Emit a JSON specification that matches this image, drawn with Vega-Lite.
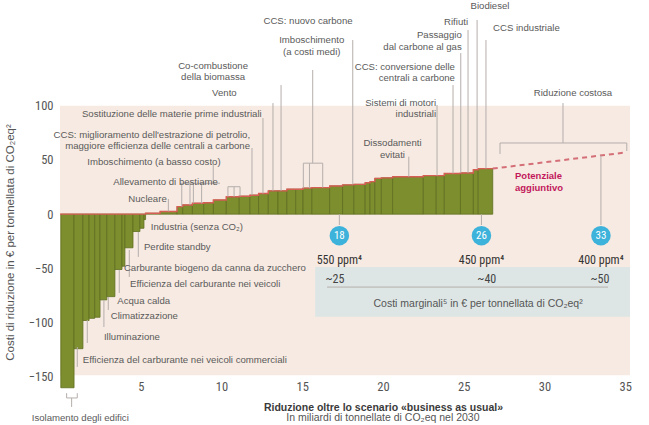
{
  "$schema": "https://vega.github.io/schema/vega-lite/v6.json",
  "width": 570,
  "height": 378,
  "autosize": {"type": "none"},
  "padding": {"left": 60, "top": 0, "right": 19, "bottom": 47},
  "background": "white",
  "config": {"view": {"stroke": null}, "font": "Liberation Sans"},
  "datasets": {
    "bg": [{"x": 0, "x2": 35.3, "y": -148.5, "y2": 100}],
    "band": [{"x": 15.8, "x2": 35.3, "y": -94.6, "y2": -48.6}],
    "bars": [
      {"x": 0.05, "x2": 0.87, "y": -160},
      {"x": 0.87, "x2": 1.42, "y": -124},
      {"x": 1.42, "x2": 1.8, "y": -98},
      {"x": 1.8, "x2": 2.15, "y": -96},
      {"x": 2.15, "x2": 2.48, "y": -95},
      {"x": 2.48, "x2": 2.9, "y": -79},
      {"x": 2.9, "x2": 3.4, "y": -76},
      {"x": 3.4, "x2": 3.84, "y": -51},
      {"x": 3.84, "x2": 4.02, "y": -48},
      {"x": 4.02, "x2": 4.52, "y": -31},
      {"x": 4.52, "x2": 4.95, "y": -16},
      {"x": 4.95, "x2": 5.2, "y": -13},
      {"x": 5.2, "x2": 5.3, "y": -5},
      {"x": 5.3, "x2": 6.2, "y": 0.8},
      {"x": 6.2, "x2": 7.25, "y": 2.5},
      {"x": 7.25, "x2": 7.6, "y": 7},
      {"x": 7.6, "x2": 8.2, "y": 8.5},
      {"x": 8.2, "x2": 8.9, "y": 10},
      {"x": 8.9, "x2": 9.5, "y": 10.5},
      {"x": 9.5, "x2": 10.3, "y": 13},
      {"x": 10.3, "x2": 11.1, "y": 16},
      {"x": 11.1, "x2": 11.76, "y": 16.5},
      {"x": 11.76, "x2": 12.3, "y": 17.5},
      {"x": 12.3, "x2": 12.9, "y": 19},
      {"x": 12.9, "x2": 13.5, "y": 21.5},
      {"x": 13.5, "x2": 14.05, "y": 21.5},
      {"x": 14.05, "x2": 14.6, "y": 23},
      {"x": 14.6, "x2": 15.05, "y": 23},
      {"x": 15.05, "x2": 15.6, "y": 24},
      {"x": 15.6, "x2": 16.7, "y": 24.5},
      {"x": 16.7, "x2": 17.5, "y": 26},
      {"x": 17.5, "x2": 18.2, "y": 27},
      {"x": 18.2, "x2": 18.9, "y": 27.5},
      {"x": 18.9, "x2": 19.2, "y": 29},
      {"x": 19.2, "x2": 19.5, "y": 30},
      {"x": 19.5, "x2": 19.9, "y": 33},
      {"x": 19.9, "x2": 20.6, "y": 33.5},
      {"x": 20.6, "x2": 22.5, "y": 34.5},
      {"x": 22.5, "x2": 23.3, "y": 35.5},
      {"x": 23.3, "x2": 23.8, "y": 35.5},
      {"x": 23.8, "x2": 24.8, "y": 37.5},
      {"x": 24.8, "x2": 25.6, "y": 38},
      {"x": 25.6, "x2": 25.9, "y": 41},
      {"x": 25.9, "x2": 26.8, "y": 42}
    ],
    "profile": [
      {"x": 0, "y": 0}, {"x": 5.3, "y": 0.8}, {"x": 6.2, "y": 2.5}, {"x": 7.25, "y": 7},
      {"x": 7.6, "y": 8.5}, {"x": 8.2, "y": 10}, {"x": 8.9, "y": 10.5}, {"x": 9.5, "y": 13},
      {"x": 10.3, "y": 16}, {"x": 11.1, "y": 16.5}, {"x": 11.76, "y": 17.5}, {"x": 12.3, "y": 19},
      {"x": 12.9, "y": 21.5}, {"x": 14.05, "y": 23}, {"x": 15.05, "y": 24}, {"x": 15.6, "y": 24.5},
      {"x": 16.7, "y": 26}, {"x": 17.5, "y": 27}, {"x": 18.2, "y": 27.5}, {"x": 18.9, "y": 29},
      {"x": 19.2, "y": 30}, {"x": 19.5, "y": 33}, {"x": 19.9, "y": 33.5}, {"x": 20.6, "y": 34.5},
      {"x": 22.5, "y": 35.5}, {"x": 23.8, "y": 37.5}, {"x": 24.8, "y": 38}, {"x": 25.6, "y": 41},
      {"x": 25.9, "y": 42}, {"x": 26.8, "y": 42}
    ],
    "dashed": [{"x": 26.8, "y": 42}, {"x": 35.1, "y": 57}],
    "leaders": [
      {"x": 25.83, "x2": 25.83, "y": 179, "y2": 42},
      {"x": 25.27, "x2": 25.27, "y": 169.7, "y2": 38},
      {"x": 24.82, "x2": 24.82, "y": 148.5, "y2": 38},
      {"x": 26.38, "x2": 26.38, "y": 160.5, "y2": 42},
      {"x": 24.34, "x2": 24.34, "y": 119, "y2": 37.5},
      {"x": 23.35, "x2": 23.35, "y": 100.6, "y2": 35.5},
      {"x": 21.6, "x2": 21.6, "y": 53, "y2": 34.5},
      {"x": 18.13, "x2": 18.13, "y": 160.5, "y2": 27.5},
      {"x": 15.65, "x2": 15.65, "y": 132.9, "y2": 47},
      {"x": 15.07, "x2": 16.27, "y": 47, "y2": 47},
      {"x": 15.07, "x2": 15.07, "y": 47, "y2": 24},
      {"x": 15.45, "x2": 15.45, "y": 47, "y2": 24},
      {"x": 16.27, "x2": 16.27, "y": 47, "y2": 24.5},
      {"x": 13.69, "x2": 13.69, "y": 119, "y2": 21.5},
      {"x": 13.19, "x2": 13.19, "y": 102.4, "y2": 21.5},
      {"x": 12.57, "x2": 12.57, "y": 88.6, "y2": 19},
      {"x": 11.89, "x2": 11.89, "y": 61, "y2": 17.5},
      {"x": 9.49, "x2": 9.49, "y": 45.3, "y2": 28.5},
      {"x": 7.43, "x2": 9.91, "y": 28.5, "y2": 28.5},
      {"x": 7.54, "x2": 7.54, "y": 28.5, "y2": 7},
      {"x": 8.05, "x2": 8.05, "y": 28.5, "y2": 8.5},
      {"x": 8.26, "x2": 8.26, "y": 28.5, "y2": 10},
      {"x": 8.77, "x2": 8.77, "y": 28.5, "y2": 10},
      {"x": 10.4, "x2": 11.15, "y": 25.3, "y2": 25.3},
      {"x": 10.4, "x2": 10.4, "y": 25.3, "y2": 16},
      {"x": 10.78, "x2": 10.78, "y": 25.3, "y2": 16},
      {"x": 11.15, "x2": 11.15, "y": 25.3, "y2": 16.5},
      {"x": 6.71, "x2": 6.71, "y": 14, "y2": 2.5},
      {"x": 31.15, "x2": 31.15, "y": 102.4, "y2": 65.6},
      {"x": 27.25, "x2": 35.1, "y": 65.6, "y2": 65.6},
      {"x": 27.25, "x2": 27.25, "y": 65.6, "y2": 55.5},
      {"x": 35.1, "x2": 35.1, "y": 65.6, "y2": 58.2},
      {"x": 4.85, "x2": 4.85, "y": -16.4, "y2": -39.4},
      {"x": 4.29, "x2": 4.29, "y": -33, "y2": -57.9},
      {"x": 3.67, "x2": 3.67, "y": -51.4, "y2": -72.6},
      {"x": 2.99, "x2": 2.99, "y": -76.3, "y2": -88.3},
      {"x": 2.72, "x2": 2.72, "y": -79, "y2": -104},
      {"x": 1.69, "x2": 1.69, "y": -97.5, "y2": -118.7},
      {"x": 1.07, "x2": 1.07, "y": -122.4, "y2": -140.8},
      {"x": 0.41, "x2": 1.07, "y": -169.4, "y2": -169.4},
      {"x": 0.41, "x2": 0.41, "y": -165, "y2": -169.4},
      {"x": 1.07, "x2": 1.07, "y": -165, "y2": -169.4},
      {"x": 0.72, "x2": 0.72, "y": -169.4, "y2": -177.7},
      {"x": 17.3, "x2": 17.3, "y": 0, "y2": -10},
      {"x": 26.1, "x2": 26.1, "y": 0, "y2": -10},
      {"x": 33.5, "x2": 33.5, "y": 54.1, "y2": -10},
      {"x": 16.54, "x2": 33.94, "y": -67.2, "y2": -67.2}
    ],
    "circles": [
      {"x": 17.3, "y": -19.8, "text": "18"},
      {"x": 26.1, "y": -19.8, "text": "26"},
      {"x": 33.5, "y": -19.8, "text": "33"}
    ],
    "ppm": [
      {"x": 17.3, "y": -42.3, "text": "550 ppm⁴"},
      {"x": 26.1, "y": -42.3, "text": "450 ppm⁴"},
      {"x": 33.5, "y": -42.3, "text": "400 ppm⁴"}
    ],
    "costs": [
      {"x": 17.03, "y": -60, "text": "~25"},
      {"x": 26.43, "y": -60, "text": "~40"},
      {"x": 33.44, "y": -60, "text": "~50"}
    ],
    "caption": [{"x": 25.89, "y": -82.5, "text": "Costi marginali⁵ in € per tonnellata di CO₂eq²"}],
    "leftSingle": [
      {"x": 1.36, "y": 92.3, "text": "Sostituzione delle materie prime industriali"},
      {"x": 1.69, "y": 48.1, "text": "Imboschimento (a basso costo)"},
      {"x": 3.3, "y": 29.7, "text": "Allevamento di bestiame"},
      {"x": 5.62, "y": -11.8, "text": "Industria (senza CO₂)"},
      {"x": 5.2, "y": -30.2, "text": "Perdite standby"},
      {"x": 3.96, "y": -49.6, "text": "Carburante biogeno da canna da zucchero"},
      {"x": 4.34, "y": -64.3, "text": "Efficienza del carburante nei veicoli"},
      {"x": 3.55, "y": -80, "text": "Acqua calda"},
      {"x": 3.14, "y": -93.8, "text": "Climatizzazione"},
      {"x": 2.72, "y": -113.2, "text": "Illuminazione"},
      {"x": 1.41, "y": -134.4, "text": "Efficienza del carburante nei veicoli commerciali"},
      {"x": -1.75, "y": -188.2, "text": "Isolamento degli edifici"},
      {"x": 26.82, "y": 171.6, "text": "CCS industriale"}
    ],
    "rightSingle": [
      {"x": 6.61, "y": 14, "text": "Nucleare"},
      {"x": 10.94, "y": 111.7, "text": "Vento"},
      {"x": 25.27, "y": 177.4, "text": "Rifiuti"}
    ],
    "rightMulti": [
      {"x": 11.77, "y": 77.6, "text": "CCS: miglioramento dell'estrazione di petrolio,\nmaggiore efficienza delle centrali a carbone"},
      {"x": 24.88, "y": 169.7, "text": "Passaggio\ndal carbone al gas"},
      {"x": 24.46, "y": 140.3, "text": "CCS: conversione delle\ncentrali a carbone"},
      {"x": 23.29, "y": 107.1, "text": "Sistemi di motori\nindustriali"}
    ],
    "centerSingle": [
      {"x": 26.63, "y": 192, "text": "Biodiesel"},
      {"x": 15.36, "y": 178.3, "text": "CCS: nuovo carbone"},
      {"x": 31.77, "y": 111.7, "text": "Riduzione costosa"}
    ],
    "centerMulti": [
      {"x": 15.59, "y": 165.1, "text": "Imboschimento\n(a costi medi)"},
      {"x": 9.48, "y": 141.2, "text": "Co-combustione\ndella biomassa"},
      {"x": 20.59, "y": 70.2, "text": "Dissodamenti\nevitati"}
    ],
    "extra": [{"x": 28.18, "y": 39.8, "text": "Potenziale\naggiuntivo"}],
    "subtitle": [{"x": 20.0, "y": -188.3, "text": "In miliardi di tonnellate di CO₂eq nel 2030"}]
  },
  "encoding": {
    "x": {
      "field": "x", "type": "quantitative",
      "scale": {"domain": [0, 35.3], "nice": false, "zero": false},
      "axis": {
        "values": [5, 10, 15, 20, 25, 30, 35],
        "title": "Riduzione oltre lo scenario «business as usual»",
        "titleFontWeight": "bold", "titleFontSize": 10.5, "titleColor": "#3a3a3a",
        "titleX": 323, "titleY": 29.5, "titleBaseline": "middle", "titleAlign": "center",
        "grid": false, "domain": false, "ticks": false, "tickSize": 0,
        "labelPadding": 2, "labelFontSize": 12.5, "labelColor": "#555555",
        "labelFont": "Liberation Sans Narrow, Roboto Condensed, Roboto, sans-serif"
      }
    },
    "y": {
      "field": "y", "type": "quantitative",
      "scale": {"domain": [-151, 197.4], "nice": false, "zero": false},
      "axis": {
        "values": [-150, -100, -50, 0, 50, 100],
        "title": "Costi di riduzione in € per tonnellata di CO₂eq²",
        "titleX": -50, "titleY": 242, "titleAlign": "center", "titleBaseline": "middle",
        "titleFontWeight": "normal", "titleFontSize": 11.5, "titleColor": "#555555",
        "grid": false, "domain": false, "ticks": false, "tickSize": 0,
        "labelPadding": 7, "labelFontSize": 12.5, "labelColor": "#555555",
        "labelFont": "Liberation Sans Narrow, Roboto Condensed, Roboto, sans-serif"
      }
    }
  },
  "layer": [
    {"data": {"name": "bg"}, "mark": {"type": "rect", "color": "#f7eae2"},
     "encoding": {"x2": {"field": "x2"}, "y2": {"field": "y2"}}},
    {"data": {"name": "band"}, "mark": {"type": "rect", "color": "#dde6e5"},
     "encoding": {"x2": {"field": "x2"}, "y2": {"field": "y2"}}},
    {"data": {"name": "bars"}, "mark": {"type": "rect", "fill": "#7d8e2f", "stroke": "#5e6e1f", "strokeWidth": 0.8},
     "encoding": {"x2": {"field": "x2"}, "y2": {"datum": 0}}},
    {"data": {"name": "profile"}, "mark": {"type": "line", "interpolate": "step-after", "color": "#d65f55", "strokeWidth": 1.4},
     "encoding": {}},
    {"data": {"name": "dashed"}, "mark": {"type": "line", "color": "#d46f78", "strokeWidth": 2, "strokeDash": [5, 4]},
     "encoding": {}},
    {"data": {"name": "leaders"}, "mark": {"type": "rule", "color": "#b5aeab", "strokeWidth": 1},
     "encoding": {"x2": {"field": "x2"}, "y2": {"field": "y2"}}},
    {"data": {"name": "circles"}, "mark": {"type": "point", "shape": "circle", "filled": true, "size": 380, "color": "#3db2da", "opacity": 1},
     "encoding": {}},
    {"data": {"name": "circles"}, "mark": {"type": "text", "color": "white", "fontSize": 11, "baseline": "middle", "align": "center", "font": "Liberation Sans Narrow, Roboto Condensed, Roboto, sans-serif"},
     "encoding": {"text": {"field": "text"}}},
    {"data": {"name": "ppm"}, "mark": {"type": "text", "color": "#333333", "fontSize": 12, "baseline": "middle", "align": "center", "font": "Liberation Sans Narrow, Roboto Condensed, Roboto, sans-serif"},
     "encoding": {"text": {"field": "text"}}},
    {"data": {"name": "costs"}, "mark": {"type": "text", "color": "#444444", "fontSize": 12, "baseline": "middle", "align": "center", "font": "Liberation Sans Narrow, Roboto Condensed, Roboto, sans-serif"},
     "encoding": {"text": {"field": "text"}}},
    {"data": {"name": "caption"}, "mark": {"type": "text", "color": "#555555", "fontSize": 10.5, "baseline": "middle", "align": "center"},
     "encoding": {"text": {"field": "text"}}},
    {"data": {"name": "leftSingle"}, "mark": {"type": "text", "color": "#5a5a5a", "fontSize": 9.6, "baseline": "middle", "align": "left"},
     "encoding": {"text": {"field": "text"}}},
    {"data": {"name": "rightSingle"}, "mark": {"type": "text", "color": "#5a5a5a", "fontSize": 9.6, "baseline": "middle", "align": "right"},
     "encoding": {"text": {"field": "text"}}},
    {"data": {"name": "rightMulti"}, "mark": {"type": "text", "color": "#5a5a5a", "fontSize": 9.6, "baseline": "top", "align": "right", "lineBreak": "\n", "lineHeight": 11.5},
     "encoding": {"text": {"field": "text"}}},
    {"data": {"name": "centerSingle"}, "mark": {"type": "text", "color": "#5a5a5a", "fontSize": 9.6, "baseline": "middle", "align": "center"},
     "encoding": {"text": {"field": "text"}}},
    {"data": {"name": "centerMulti"}, "mark": {"type": "text", "color": "#5a5a5a", "fontSize": 9.6, "baseline": "top", "align": "center", "lineBreak": "\n", "lineHeight": 11.5},
     "encoding": {"text": {"field": "text"}}},
    {"data": {"name": "extra"}, "mark": {"type": "text", "color": "#c2185b", "fontSize": 9.5, "fontWeight": "bold", "baseline": "top", "align": "left", "lineBreak": "\n", "lineHeight": 12.5},
     "encoding": {"text": {"field": "text"}}},
    {"data": {"name": "subtitle"}, "mark": {"type": "text", "color": "#555555", "fontSize": 10.5, "baseline": "middle", "align": "center"},
     "encoding": {"text": {"field": "text"}}}
  ]
}
